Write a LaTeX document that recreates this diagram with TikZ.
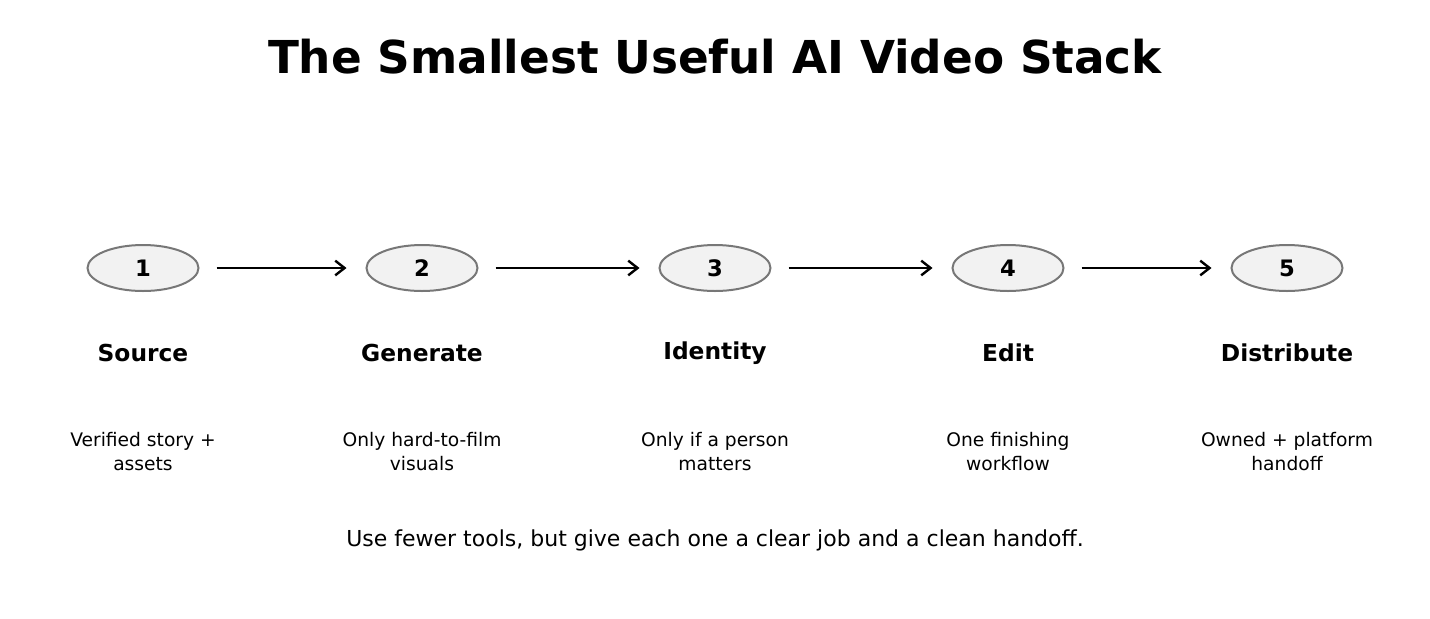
\documentclass[tikz,border=0pt]{standalone}
\usepackage{fontspec}
\setmainfont{DejaVu Sans}
\usetikzlibrary{arrows.meta,shapes.geometric}
\definecolor{efill}{HTML}{F2F2F2}
\definecolor{edraw}{HTML}{777777}
\begin{document}
\begin{tikzpicture}[x=0.75pt,y=-0.75pt,
  stp/.style={ellipse,draw=edraw,fill=efill,line width=1.5pt,minimum width=111*0.75pt,minimum height=46*0.75pt,inner sep=0pt,font=\fontsize{17}{20}\selectfont\bfseries},
  lab/.style={font=\fontsize{17.5}{21}\selectfont\bfseries},
  desc/.style={align=center,font=\fontsize{14}{18}\selectfont},
  arr/.style={-{Straight Barb[length=7pt,width=11pt,line width=1.8pt]},line width=1.8pt}]
\useasboundingbox (0,0) rectangle (1430,618);
\node[font=\fontsize{34}{40}\selectfont\bfseries] (title) at (715,57) {The Smallest Useful AI Video Stack};
\foreach \i/\x/\l/\d in {1/143/Source/{Verified story +\\assets},2/422/Generate/{Only hard-to-film\\visuals},3/715/Identity/{Only if a person\\matters},4/1008/Edit/{One finishing\\workflow},5/1287/Distribute/{Owned + platform\\handoff}}{
  \node[stp] (n\i) at (\x,268) {\i};
  \node[lab] (l\i) at (\x,353) {\l};
  \node[desc] (d\i) at (\x,452) {\d};
}
\foreach \a/\b in {1/2,2/3,3/4,4/5}{
  \draw[arr] ([xshift=17*0.75pt]n\a.east) -- ([xshift=-19*0.75pt]n\b.west);
}
\node[font=\fontsize{16.5}{20}\selectfont] (foot) at (715,540) {Use fewer tools, but give each one a clear job and a clean handoff.};
\end{tikzpicture}
\end{document}
